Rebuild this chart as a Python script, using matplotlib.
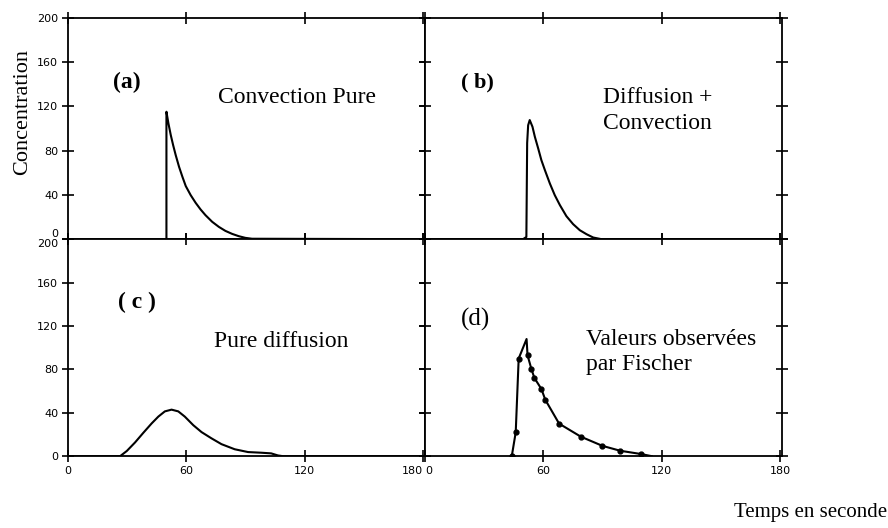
import matplotlib.pyplot as plt

# (a) convection pure
conv_x = [49.9, 49.9, 50.9, 52.1, 53.3, 54.6, 56.3, 58, 59.7, 62.2, 64.7, 67.2,
          69.7, 73.1, 76.5, 79.8, 83.2, 86.6, 89.9, 93.3, 181]
conv_y = [0, 115.2, 104.7, 94.1, 85, 76, 65.4, 56.4, 48, 39.8, 32.9, 26.9,
          21.7, 15.7, 11.1, 7.5, 4.8, 2.7, 1.2, 0.4, 0]

# (b) diffusion + convection
dc_x = [0, 49.7, 51.4, 51.8, 52.3, 53.1, 54.5, 55.7, 57.4, 59, 60.8, 63.3, 65.8,
        68.4, 71.7, 75.1, 78.5, 81.9, 85.3, 89.5, 181]
dc_y = [0, 0, 2, 87, 103, 107.7, 101.6, 92.6, 82, 71.5, 62.4, 50.4, 39.8,
        30.8, 20.8, 13.6, 8.1, 4.5, 1.5, 0, 0]

# (c) pure diffusion
pd_x = [0, 26.4, 29.8, 34, 38.2, 42.4, 45.8, 49.1, 52.5, 55.9, 59.2, 63.5, 67.7,
        72.7, 77.8, 84.5, 91.3, 98, 103, 106.4, 109, 181]
pd_y = [0, 0, 4.8, 12.7, 21.6, 30.2, 36.5, 41.3, 42.9, 41.3, 36.5, 28.6, 22.2,
        16.5, 11.1, 6.4, 3.8, 3.2, 2.6, 0.7, 0, 0]

# (d) valeurs observees par Fischer
obs_x = [44, 46, 47.5, 51.5, 52, 54, 55.5, 59, 61, 68, 79, 90, 99, 109.5, 115]
obs_y = [0, 22, 90, 108, 93, 80, 72, 62, 52, 30, 18, 9.5, 5, 2, 0]
obs_mark = [0, 1, 2, 4, 5, 6, 7, 8, 9, 10, 11, 12, 13]

xticks = [0, 60, 120, 180]
yticks = [0, 40, 80, 120, 160, 200]

plt.rcParams['font.family'] = ['Liberation Serif', 'DejaVu Serif']

fig = plt.figure(figsize=(8.88, 5.28), dpi=100)
W = 0.402
axa = fig.add_axes([0.0766, 0.547, W, 0.419])
axb = fig.add_axes([0.0766 + W, 0.547, W, 0.419])
axc = fig.add_axes([0.0766, 0.136, W, 0.411])
axd = fig.add_axes([0.0766 + W, 0.136, W, 0.411])

for ax in (axa, axb, axc, axd):
    ax.set_xlim(0, 181)
    ax.set_ylim(0, 200)
    ax.set_xticks(xticks)
    ax.set_yticks(yticks)
    ax.tick_params(direction='inout', length=8, width=1.2, top=True, right=True,
                   labelsize=8, pad=3)
    for s in ax.spines.values():
        s.set_linewidth(1.3)
    for lab in ax.get_xticklabels() + ax.get_yticklabels():
        lab.set_family('DejaVu Sans')

for ax in (axa, axb):
    ax.tick_params(labelbottom=False)
for ax in (axb, axd):
    ax.tick_params(labelleft=False)

# keep the labels at the shared edges apart
axa.get_yticklabels()[0].set_va('bottom')
axc.get_yticklabels()[-1].set_va('top')
axc.get_xticklabels()[-1].set_ha('right')
axd.get_xticklabels()[0].set_ha('left')

lw = 1.5
axa.plot(conv_x, conv_y, color='black', lw=lw)
axb.plot(dc_x, dc_y, color='black', lw=lw)
axc.plot(pd_x, pd_y, color='black', lw=lw)
axd.plot(obs_x, obs_y, color='black', lw=lw, marker='o', markersize=3.5,
         markevery=obs_mark)

axa.text(0.125, 0.71, '(a)', transform=axa.transAxes, fontsize=17,
         fontweight='bold', va='center')
axa.text(0.42, 0.64, 'Convection Pure', transform=axa.transAxes, fontsize=17,
         va='center')
axb.text(0.10, 0.71, '( b)', transform=axb.transAxes, fontsize=16,
         fontweight='bold', va='center')
axb.text(0.50, 0.58, 'Diffusion +\nConvection', transform=axb.transAxes,
         fontsize=17, va='center', linespacing=1.3)
axc.text(0.14, 0.71, '( c )', transform=axc.transAxes, fontsize=17,
         fontweight='bold', va='center')
axc.text(0.41, 0.53, 'Pure diffusion', transform=axc.transAxes, fontsize=17,
         va='center')
axd.text(0.10, 0.63, '(d)', transform=axd.transAxes, fontsize=18,
         va='center')
axd.text(0.45, 0.48, 'Valeurs observées\npar Fischer', transform=axd.transAxes,
         fontsize=17, va='center', linespacing=1.25)

axa.set_ylabel('Concentration', fontsize=16)
axa.yaxis.set_label_coords(-0.10, 0.575)
fig.text(0.999, 0.03, 'Temps en seconde', fontsize=15, ha='right', va='center')

fig.savefig('out.png', dpi=100, facecolor='white')
